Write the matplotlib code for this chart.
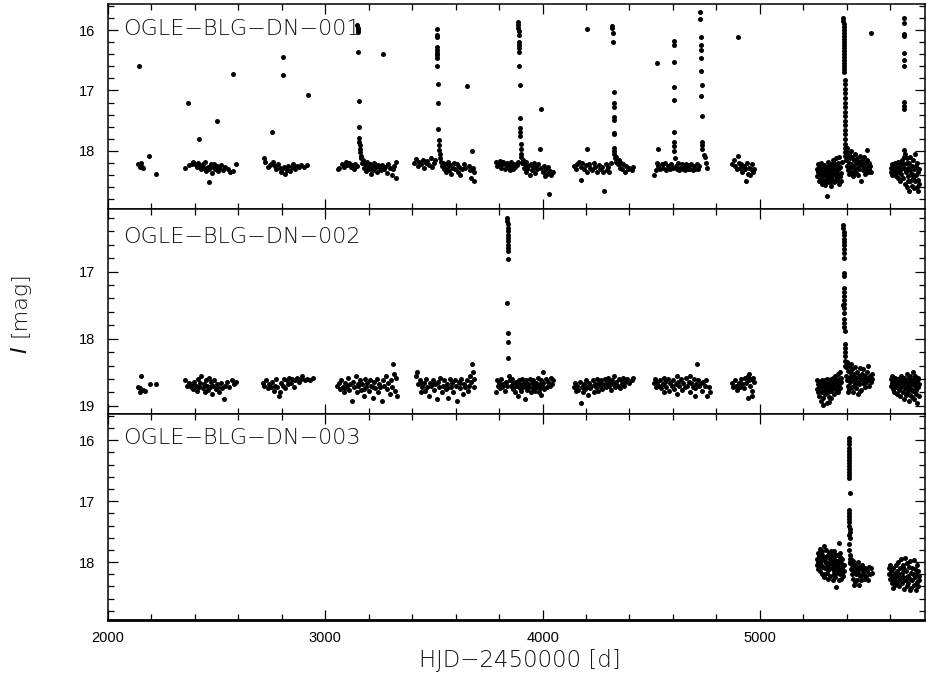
import matplotlib
matplotlib.use("Agg")
import matplotlib.pyplot as plt
import numpy as np
from matplotlib.ticker import MultipleLocator

# Light curves: flat lists of (HJD-2450000, I mag) pairs,
# grouped by observing season.
dn001 = [
    # 2100
    2142, 16.59, 2140, 18.22, 2146, 18.27, 2150, 18.20, 2156, 18.26, 2160, 18.29, 2188, 18.08, 2221, 18.38,
    # 2400
    2367, 17.20, 2421, 17.80, 2500, 17.50, 2574, 16.72,
    2356, 18.28, 2372, 18.24, 2385, 18.21, 2392, 18.18, 2400, 18.22, 2408, 18.26, 2415, 18.20, 2422, 18.25,
    2430, 18.30, 2436, 18.22, 2441, 18.28, 2447, 18.19, 2452, 18.33, 2458, 18.26, 2463, 18.30, 2467, 18.52,
    2472, 18.21, 2477, 18.36, 2482, 18.27, 2488, 18.22, 2494, 18.30, 2500, 18.25, 2506, 18.33, 2512, 18.28,
    2520, 18.24, 2530, 18.31, 2540, 18.26, 2552, 18.30, 2560, 18.35, 2575, 18.33, 2588, 18.21,
    # 2800
    2755, 17.68, 2807, 16.45, 2807, 16.75, 2920, 17.07,
    2716, 18.11, 2722, 18.18, 2735, 18.27, 2745, 18.24, 2752, 18.21, 2760, 18.19, 2768, 18.25, 2775, 18.30,
    2782, 18.22, 2790, 18.28, 2796, 18.35, 2802, 18.30, 2810, 18.26, 2815, 18.38, 2822, 18.31, 2830, 18.25,
    2838, 18.33, 2845, 18.27, 2852, 18.22, 2860, 18.30, 2868, 18.25, 2880, 18.27, 2890, 18.23, 2900, 18.26,
    2915, 18.24,
    # 3150
    3057, 18.30, 3065, 18.28, 3078, 18.22, 3088, 18.27, 3095, 18.19, 3102, 18.24, 3110, 18.20, 3118, 18.26,
    3125, 18.23, 3132, 18.30, 3138, 18.22, 3144, 18.25,
    3148, 15.92, 3149, 15.97, 3150, 16.00, 3150, 16.04, 3152, 16.36, 3155, 17.18, 3156, 17.60, 3156, 17.78,
    3157, 17.85, 3159, 17.90, 3160, 17.96, 3162, 18.02, 3164, 18.08,
    3166, 18.12, 3170, 18.20, 3174, 18.15, 3178, 18.28, 3182, 18.22, 3186, 18.33, 3190, 18.19, 3195, 18.26,
    3200, 18.30, 3205, 18.22, 3210, 18.38, 3215, 18.25, 3220, 18.31, 3226, 18.20, 3232, 18.27, 3238, 18.35,
    3244, 18.23, 3250, 18.29, 3256, 18.32, 3262, 18.24, 3264, 16.40, 3270, 18.30, 3276, 18.26, 3282, 18.36,
    3290, 18.22, 3298, 18.28, 3305, 18.40, 3312, 18.30, 3318, 18.25, 3324, 18.45, 3326, 18.18,
    # 3500
    3410, 18.20, 3418, 18.13, 3425, 18.25, 3432, 18.18, 3440, 18.22, 3448, 18.15, 3455, 18.28, 3462, 18.20,
    3470, 18.17, 3478, 18.24, 3485, 18.12, 3492, 18.26, 3500, 18.20, 3506, 18.15,
    3512, 15.98, 3513, 16.08, 3513, 16.12, 3514, 16.28, 3514, 16.33, 3515, 16.38, 3515, 16.42, 3516, 16.47,
    3516, 16.59, 3518, 16.90, 3519, 17.21, 3520, 17.64, 3522, 17.82, 3523, 17.90, 3524, 17.98, 3526, 18.05,
    3528, 18.12, 3532, 18.18, 3536, 18.25, 3540, 18.20, 3545, 18.30, 3550, 18.22, 3555, 18.35, 3560, 18.26,
    3565, 18.18, 3570, 18.32, 3575, 18.24, 3580, 18.38, 3586, 18.28, 3592, 18.20, 3598, 18.30, 3604, 18.22,
    3610, 18.34, 3616, 18.26, 3622, 18.40, 3630, 18.30, 3638, 18.22, 3645, 18.28, 3654, 16.93, 3660, 18.25,
    3666, 18.32, 3672, 18.45, 3676, 18.00, 3680, 18.28, 3684, 18.50, 3686, 18.35,
    # 3900
    3785, 18.18, 3790, 18.25, 3795, 18.20, 3800, 18.22, 3805, 18.16, 3810, 18.28, 3815, 18.21, 3820, 18.18,
    3825, 18.30, 3830, 18.24, 3835, 18.20, 3840, 18.26, 3845, 18.22, 3850, 18.32, 3855, 18.19, 3860, 18.25,
    3865, 18.30, 3870, 18.21, 3875, 18.27, 3880, 18.23, 3885, 18.18,
    3888, 15.87, 3889, 15.92, 3889, 15.97, 3890, 16.02, 3890, 16.08, 3891, 16.20, 3891, 16.25, 3892, 16.30,
    3892, 16.36, 3893, 16.60, 3894, 16.91, 3898, 17.46, 3897, 17.62, 3897, 17.68, 3897, 17.75, 3899, 17.88,
    3899, 17.97, 3900, 18.05,
    3902, 18.10, 3906, 18.20, 3910, 18.15, 3914, 18.28, 3918, 18.22, 3922, 18.35, 3926, 18.18, 3930, 18.30,
    3935, 18.25, 3940, 18.40, 3945, 18.22, 3950, 18.32, 3955, 18.27, 3960, 18.20, 3965, 18.36, 3970, 18.25,
    3975, 18.30, 3980, 18.22, 3987, 17.97, 3992, 17.31, 3995, 18.28, 4000, 18.35, 4005, 18.25, 4010, 18.42,
    4015, 18.30, 4020, 18.38, 4025, 18.27, 4030, 18.72, 4035, 18.33, 4040, 18.40, 4048, 18.35,
    # 4300
    4206, 15.98, 4206, 17.97, 4176, 18.48,
    4145, 18.25, 4152, 18.30, 4160, 18.22, 4168, 18.18, 4175, 18.27, 4182, 18.20, 4190, 18.30, 4198, 18.24,
    4205, 18.35, 4212, 18.22, 4220, 18.28, 4228, 18.32, 4235, 18.20, 4242, 18.26, 4250, 18.35, 4258, 18.23,
    4265, 18.30, 4272, 18.27, 4278, 18.35, 4283, 18.67, 4290, 18.22, 4296, 18.32, 4302, 18.26, 4308, 18.35,
    4314, 18.20,
    4320, 15.93, 4321, 15.97, 4322, 16.05, 4323, 16.20, 4328, 17.02, 4327, 17.20, 4327, 17.27, 4327, 17.44,
    4328, 17.48, 4328, 17.70, 4329, 17.72, 4327, 17.95, 4328, 18.00, 4330, 18.05,
    4332, 18.12, 4336, 18.18, 4340, 18.10, 4345, 18.22, 4350, 18.15, 4355, 18.28, 4360, 18.20, 4365, 18.30,
    4370, 18.22, 4378, 18.35, 4385, 18.25, 4392, 18.30, 4400, 18.28, 4410, 18.32, 4418, 18.26,
    # 4600
    4528, 16.54, 4532, 17.96, 4513, 18.40, 4520, 18.32,
    4525, 18.20, 4532, 18.25, 4540, 18.30, 4548, 18.22, 4555, 18.28, 4562, 18.20, 4570, 18.32, 4578, 18.25,
    4585, 18.30, 4592, 18.22, 4598, 18.28,
    4604, 16.18, 4604, 16.25, 4605, 16.53, 4605, 16.95, 4605, 17.16, 4605, 17.68, 4605, 17.85, 4606, 17.92,
    4606, 18.00,
    4610, 18.12, 4615, 18.25, 4620, 18.30, 4625, 18.20, 4630, 18.32, 4635, 18.26, 4640, 18.22, 4645, 18.30,
    4650, 18.25, 4655, 18.32, 4660, 18.22, 4665, 18.28, 4670, 18.30, 4675, 18.24, 4680, 18.30, 4685, 18.22,
    4690, 18.32, 4695, 18.25, 4700, 18.30, 4705, 18.28, 4710, 18.22, 4715, 18.30, 4720, 18.25,
    4725, 15.71, 4725, 15.82, 4727, 16.12, 4727, 16.25, 4727, 16.33, 4729, 16.46, 4731, 16.67, 4733, 16.91,
    4731, 17.09, 4733, 17.42, 4733, 17.85, 4733, 17.90, 4735, 17.97, 4742, 18.06, 4748, 18.10, 4752, 18.20,
    4755, 18.28,
    # 4900
    4872, 18.22, 4880, 18.15, 4885, 18.25, 4899, 16.12, 4895, 18.30, 4900, 18.08, 4905, 18.20, 4910, 18.28,
    4915, 18.22, 4920, 18.35, 4925, 18.25, 4930, 18.30, 4934, 18.50, 4940, 18.20, 4945, 18.38, 4950, 18.28,
    4955, 18.40, 4960, 18.30, 4965, 18.22, 4970, 18.35, 4974, 18.30,
    # 5300
    5262, 18.30, 5265, 18.42, 5268, 18.22, 5270, 18.50, 5273, 18.35, 5276, 18.28, 5278, 18.45, 5281, 18.20,
    5284, 18.55, 5286, 18.38, 5289, 18.30, 5292, 18.48, 5294, 18.24, 5297, 18.40, 5300, 18.33, 5302, 18.56,
    5305, 18.27, 5308, 18.74, 5310, 18.44, 5312, 18.18, 5315, 18.36, 5318, 18.50, 5320, 18.29, 5323, 18.42,
    5326, 18.22, 5328, 18.58, 5331, 18.34, 5334, 18.46, 5336, 18.15, 5339, 18.30, 5342, 18.52, 5344, 18.25,
    5347, 18.40, 5350, 18.12, 5352, 18.35, 5355, 18.48, 5358, 18.20, 5360, 18.30, 5363, 18.55, 5366, 18.10,
    5368, 18.42, 5371, 18.26, 5374, 18.36, 5376, 18.18, 5267, 18.35, 5279, 18.38, 5291, 18.40, 5303, 18.42,
    5316, 18.25, 5329, 18.45, 5341, 18.20, 5353, 18.45, 5365, 18.28, 5372, 18.50, 5285, 18.30, 5298, 18.50,
    5311, 18.32, 5324, 18.52, 5337, 18.38, 5349, 18.30, 5361, 18.40, 5271, 18.25, 5283, 18.45, 5296, 18.28,
    5309, 18.52, 5322, 18.35, 5334, 18.28, 5346, 18.50, 5359, 18.38, 5370, 18.42,
    5384, 15.80, 5384, 15.85, 5385, 15.90, 5385, 15.95, 5385, 16.00, 5386, 16.05, 5386, 16.10, 5386, 16.15,
    5386, 16.20, 5387, 16.25, 5387, 16.30, 5387, 16.35, 5387, 16.40, 5388, 16.45, 5388, 16.50, 5388, 16.55,
    5388, 16.60, 5389, 16.65, 5389, 16.69, 5391, 16.83, 5391, 16.90, 5391, 16.97, 5392, 17.05, 5392, 17.12,
    5392, 17.20, 5392, 17.28, 5393, 17.35, 5393, 17.42, 5393, 17.50, 5393, 17.57, 5393, 17.65, 5392, 17.72,
    5392, 17.80, 5393, 17.88, 5393, 17.95, 5394, 18.02, 5394, 18.08,
    5396, 18.00, 5398, 18.15, 5400, 17.95, 5402, 18.25, 5404, 18.10, 5406, 18.32, 5408, 18.05, 5410, 18.20,
    5412, 18.38, 5414, 18.12, 5416, 18.28, 5418, 18.00, 5420, 18.22, 5423, 18.35, 5425, 18.10, 5428, 18.25,
    5430, 18.42, 5433, 18.15, 5436, 18.30, 5438, 18.05, 5441, 18.20, 5444, 18.36, 5447, 18.12, 5450, 18.27,
    5452, 18.40, 5455, 18.18, 5458, 18.30, 5461, 18.08, 5464, 18.22, 5467, 18.50, 5470, 18.15, 5473, 18.32,
    5476, 18.25, 5479, 18.10, 5482, 18.38, 5485, 18.20, 5488, 18.30, 5491, 18.15, 5494, 18.27, 5495, 17.98,
    5498, 18.35, 5501, 18.20, 5504, 18.30, 5507, 18.25, 5510, 18.35, 5512, 16.05,
    # 5650
    5602, 18.28, 5605, 18.35, 5608, 18.22, 5610, 18.40, 5613, 18.30, 5616, 18.25, 5618, 18.38, 5621, 18.32,
    5624, 18.20, 5627, 18.42, 5630, 18.28, 5632, 18.35, 5635, 18.18, 5638, 18.45, 5640, 18.25, 5643, 18.32,
    5646, 18.50, 5648, 18.20, 5651, 18.38, 5654, 18.15, 5657, 18.28, 5660, 18.45,
    5662, 15.80, 5662, 15.89, 5662, 16.07, 5662, 16.10, 5662, 16.38, 5662, 16.50, 5662, 16.60, 5662, 17.19,
    5662, 17.25, 5662, 17.30, 5662, 17.98,
    5663, 18.10, 5665, 18.22, 5668, 18.55, 5670, 18.05, 5672, 18.35, 5675, 18.60, 5678, 18.12, 5680, 18.42,
    5683, 18.28, 5686, 18.67, 5688, 18.20, 5690, 18.50, 5693, 18.10, 5696, 18.38, 5698, 18.58, 5700, 18.25,
    5703, 18.45, 5706, 18.15, 5708, 18.62, 5711, 18.30, 5714, 18.50, 5716, 18.05, 5719, 18.40, 5722, 18.60,
    5724, 18.20, 5727, 18.48, 5729, 18.67, 5731, 18.30, 5733, 18.55, 5668, 18.30, 5676, 18.20, 5684, 18.50,
    5692, 18.32, 5701, 18.38, 5710, 18.42, 5718, 18.25, 5726, 18.35,
]

dn002 = [
    # 2150
    2152, 18.55, 2137, 18.72, 2145, 18.74, 2160, 18.77, 2148, 18.80, 2170, 18.78, 2191, 18.67, 2221, 18.68,
    # 2450
    2356, 18.62, 2365, 18.70, 2372, 18.66, 2380, 18.72, 2386, 18.68, 2392, 18.75, 2398, 18.64, 2404, 18.70,
    2410, 18.78, 2415, 18.60, 2420, 18.72, 2425, 18.66, 2430, 18.55, 2435, 18.74, 2440, 18.68, 2445, 18.80,
    2450, 18.62, 2455, 18.70, 2460, 18.76, 2465, 18.58, 2470, 18.72, 2475, 18.65, 2480, 18.82, 2485, 18.70,
    2490, 18.62, 2495, 18.75, 2500, 18.68, 2506, 18.72, 2512, 18.80, 2518, 18.66, 2525, 18.74, 2532, 18.90,
    2540, 18.70, 2548, 18.65, 2558, 18.72, 2570, 18.62, 2580, 18.68, 2590, 18.65,
    # 2830
    2712, 18.66, 2720, 18.70, 2728, 18.62, 2735, 18.74, 2742, 18.68, 2750, 18.72, 2756, 18.64, 2762, 18.78,
    2768, 18.70, 2775, 18.60, 2780, 18.72, 2786, 18.85, 2792, 18.80, 2798, 18.66, 2804, 18.70, 2810, 18.60,
    2816, 18.74, 2822, 18.62, 2828, 18.68, 2835, 18.58, 2842, 18.66, 2848, 18.60, 2855, 18.72, 2862, 18.62,
    2870, 18.58, 2878, 18.65, 2886, 18.60, 2895, 18.56, 2905, 18.62, 2915, 18.60, 2930, 18.62, 2945, 18.58,
    # 3190
    3055, 18.70, 3062, 18.66, 3068, 18.75, 3074, 18.62, 3080, 18.72, 3086, 18.80, 3092, 18.66, 3098, 18.70,
    3104, 18.58, 3110, 18.76, 3116, 18.68, 3122, 18.92, 3128, 18.64, 3134, 18.72, 3140, 18.55, 3146, 18.80,
    3152, 18.70, 3158, 18.62, 3164, 18.76, 3170, 18.68, 3176, 18.85, 3182, 18.60, 3188, 18.72, 3194, 18.66,
    3200, 18.78, 3206, 18.62, 3212, 18.70, 3218, 18.88, 3224, 18.65, 3230, 18.74, 3236, 18.60, 3242, 18.80,
    3248, 18.68, 3254, 18.72, 3260, 18.92, 3266, 18.62, 3272, 18.70, 3278, 18.56, 3284, 18.75, 3290, 18.66,
    3296, 18.82, 3302, 18.62, 3308, 18.72, 3310, 18.37, 3314, 18.52, 3320, 18.78, 3326, 18.58, 3330, 18.85,
    3090, 18.74, 3150, 18.68, 3180, 18.75, 3220, 18.72,
    # 3550
    3418, 18.55, 3422, 18.50, 3428, 18.68, 3434, 18.62, 3440, 18.80, 3446, 18.72, 3452, 18.66, 3458, 18.78,
    3464, 18.60, 3470, 18.72, 3476, 18.85, 3482, 18.66, 3488, 18.70, 3494, 18.62, 3500, 18.76, 3506, 18.68,
    3512, 18.90, 3518, 18.64, 3524, 18.72, 3530, 18.58, 3536, 18.80, 3542, 18.70, 3548, 18.62, 3554, 18.75,
    3560, 18.68, 3566, 18.88, 3572, 18.60, 3578, 18.72, 3584, 18.66, 3590, 18.80, 3596, 18.62, 3602, 18.70,
    3608, 18.92, 3614, 18.65, 3620, 18.74, 3626, 18.60, 3632, 18.82, 3638, 18.68, 3644, 18.72, 3650, 18.62,
    3656, 18.78, 3662, 18.70, 3668, 18.55, 3672, 18.65, 3676, 18.37, 3680, 18.50, 3684, 18.72, 3686, 18.60,
    3440, 18.66, 3500, 18.66, 3560, 18.74, 3620, 18.66,
    # 3900
    3785, 18.80, 3790, 18.62, 3795, 18.70, 3800, 18.66, 3805, 18.74, 3810, 18.60, 3815, 18.72, 3820, 18.68,
    3825, 18.78, 3830, 18.64, 3835, 18.70,
    3838, 16.20, 3838, 16.25, 3839, 16.30, 3839, 16.35, 3839, 16.40, 3840, 16.45, 3840, 16.50, 3840, 16.55,
    3841, 16.60, 3841, 16.65, 3842, 16.70, 3842, 16.81, 3836, 17.47, 3842, 17.92, 3843, 18.05, 3843, 18.28,
    3846, 18.55, 3850, 18.62, 3854, 18.70, 3858, 18.60, 3862, 18.75, 3866, 18.66, 3870, 18.72, 3874, 18.80,
    3878, 18.64, 3882, 18.70, 3886, 18.85, 3890, 18.62, 3894, 18.74, 3898, 18.68, 3902, 18.78, 3906, 18.60,
    3910, 18.72, 3914, 18.66, 3918, 18.90, 3922, 18.70, 3926, 18.62, 3930, 18.76, 3934, 18.68, 3938, 18.72,
    3942, 18.60, 3946, 18.80, 3950, 18.66, 3954, 18.74, 3958, 18.62, 3962, 18.70, 3966, 18.78, 3970, 18.66,
    3974, 18.72, 3978, 18.58, 3982, 18.80, 3986, 18.68, 3990, 18.74, 3994, 18.62, 3998, 18.70, 4002, 18.66,
    4008, 18.75, 4014, 18.60, 4020, 18.72, 4026, 18.64, 4032, 18.70, 4038, 18.58, 4045, 18.68, 4050, 18.62,
    4000, 18.50, 3995, 18.84,
    # 4280
    4145, 18.72, 4150, 18.66, 4155, 18.78, 4160, 18.70, 4165, 18.76, 4170, 18.64, 4176, 18.96, 4180, 18.72,
    4185, 18.80, 4190, 18.68, 4195, 18.75, 4200, 18.62, 4205, 18.72, 4210, 18.84, 4215, 18.66, 4220, 18.74,
    4225, 18.70, 4230, 18.62, 4235, 18.80, 4240, 18.68, 4245, 18.72, 4250, 18.60, 4255, 18.78, 4260, 18.66,
    4265, 18.70, 4270, 18.62, 4275, 18.75, 4280, 18.68, 4285, 18.60, 4290, 18.72, 4295, 18.66, 4300, 18.58,
    4305, 18.70, 4310, 18.64, 4315, 18.76, 4320, 18.62, 4325, 18.68, 4330, 18.56, 4335, 18.72, 4340, 18.64,
    4345, 18.70, 4350, 18.60, 4355, 18.74, 4360, 18.62, 4365, 18.68, 4370, 18.58, 4375, 18.70, 4380, 18.64,
    4390, 18.60, 4400, 18.66, 4410, 18.62, 4418, 18.58,
    # 4640
    4513, 18.66, 4518, 18.60, 4522, 18.72, 4528, 18.65, 4534, 18.70, 4540, 18.62, 4546, 18.74, 4552, 18.68,
    4558, 18.80, 4564, 18.64, 4570, 18.72, 4576, 18.60, 4582, 18.78, 4588, 18.66, 4594, 18.70, 4600, 18.62,
    4606, 18.75, 4612, 18.68, 4618, 18.82, 4624, 18.64, 4630, 18.70, 4636, 18.60, 4642, 18.76, 4648, 18.66,
    4654, 18.72, 4660, 18.58, 4666, 18.70, 4672, 18.64, 4678, 18.80, 4684, 18.66, 4690, 18.72, 4696, 18.60,
    4702, 18.74, 4708, 18.68, 4712, 18.37, 4716, 18.62, 4722, 18.70, 4728, 18.66, 4734, 18.78, 4740, 18.64,
    4746, 18.70, 4752, 18.62, 4758, 18.85, 4764, 18.72, 4770, 18.80, 4560, 18.58, 4620, 18.56, 4680, 18.55,
    4700, 18.85,
    # 4920
    4872, 18.66, 4878, 18.72, 4884, 18.62, 4890, 18.70, 4896, 18.76, 4902, 18.66, 4908, 18.72, 4914, 18.60,
    4920, 18.68, 4926, 18.74, 4932, 18.58, 4938, 18.66, 4944, 18.55, 4948, 18.62, 4952, 18.52, 4955, 18.70,
    4958, 18.60, 4962, 18.78, 4966, 18.85, 4970, 18.58, 4974, 18.65, 4945, 18.88,
    # 5350
    5262, 18.62, 5265, 18.75, 5268, 18.68, 5270, 18.85, 5273, 18.70, 5276, 18.78, 5278, 18.64, 5281, 18.92,
    5284, 18.72, 5286, 18.80, 5289, 18.66, 5292, 18.88, 5294, 18.74, 5297, 18.70, 5300, 18.82, 5302, 18.62,
    5305, 18.76, 5308, 18.96, 5310, 18.68, 5312, 18.80, 5315, 18.72, 5318, 18.66, 5320, 18.86, 5323, 18.70,
    5326, 18.60, 5328, 18.78, 5331, 18.68, 5334, 18.75, 5336, 18.58, 5339, 18.82, 5342, 18.65, 5344, 18.72,
    5347, 18.55, 5350, 18.76, 5352, 18.62, 5355, 18.70, 5358, 18.52, 5360, 18.80, 5363, 18.60, 5366, 18.68,
    5368, 18.50, 5371, 18.74, 5374, 18.58, 5267, 18.80, 5279, 18.72, 5291, 18.78, 5303, 18.70, 5316, 18.78,
    5329, 18.88, 5341, 18.74, 5353, 18.80, 5365, 18.72, 5372, 18.64, 5285, 18.62, 5298, 18.66, 5311, 18.60,
    5324, 18.74, 5337, 18.68, 5349, 18.64, 5361, 18.76, 5320, 18.94, 5290, 18.98,
    5384, 16.31, 5384, 16.36, 5385, 16.41, 5385, 16.46, 5385, 16.51, 5386, 16.56, 5386, 16.61, 5386, 16.66,
    5387, 16.72, 5387, 16.80, 5388, 17.02, 5388, 17.07, 5388, 17.24, 5389, 17.30, 5389, 17.36, 5389, 17.42,
    5388, 17.48, 5384, 17.50, 5386, 17.55, 5389, 17.62, 5387, 17.70, 5389, 17.76, 5388, 17.82, 5390, 17.88,
    5391, 18.08, 5391, 18.14, 5392, 18.20, 5392, 18.26, 5393, 18.33, 5393, 18.40,
    5395, 18.42, 5398, 18.55, 5400, 18.35, 5402, 18.62, 5404, 18.48, 5406, 18.70, 5408, 18.40, 5410, 18.58,
    5412, 18.75, 5414, 18.50, 5416, 18.65, 5418, 18.38, 5420, 18.55, 5423, 18.72, 5425, 18.45, 5428, 18.60,
    5430, 18.80, 5433, 18.52, 5436, 18.66, 5438, 18.42, 5441, 18.58, 5444, 18.74, 5447, 18.50, 5450, 18.64,
    5452, 18.82, 5455, 18.55, 5458, 18.68, 5461, 18.44, 5464, 18.60, 5467, 18.76, 5470, 18.52, 5473, 18.66,
    5476, 18.45, 5479, 18.60, 5482, 18.72, 5485, 18.55, 5488, 18.65, 5491, 18.50, 5494, 18.62, 5497, 18.40,
    5500, 18.58, 5503, 18.70, 5506, 18.55, 5510, 18.65, 5514, 18.60, 5518, 18.52, 5405, 18.80, 5432, 18.70,
    5460, 18.78,
    # 5660
    5602, 18.60, 5605, 18.70, 5608, 18.55, 5610, 18.66, 5613, 18.75, 5616, 18.62, 5618, 18.80, 5621, 18.68,
    5624, 18.58, 5627, 18.72, 5630, 18.64, 5632, 18.82, 5635, 18.70, 5638, 18.60, 5640, 18.76, 5643, 18.66,
    5646, 18.85, 5648, 18.55, 5651, 18.72, 5654, 18.62, 5657, 18.80, 5660, 18.68, 5662, 18.90, 5665, 18.58,
    5668, 18.74, 5670, 18.64, 5672, 18.84, 5675, 18.52, 5678, 18.70, 5680, 18.60, 5683, 18.78, 5686, 18.92,
    5688, 18.66, 5690, 18.55, 5693, 18.74, 5696, 18.62, 5698, 18.86, 5700, 18.68, 5703, 18.50, 5706, 18.78,
    5708, 18.60, 5711, 18.90, 5714, 18.70, 5716, 18.56, 5719, 18.82, 5722, 18.64, 5724, 18.95, 5727, 18.72,
    5729, 18.58, 5731, 18.85, 5733, 18.68, 5668, 18.62, 5676, 18.82, 5684, 18.64, 5692, 18.84, 5701, 18.76,
    5710, 18.66, 5718, 18.76, 5726, 18.60, 5612, 18.58, 5644, 18.58,
]

dn003 = [
    # 5330
    5262, 17.95, 5264, 18.05, 5266, 17.85, 5268, 18.12, 5270, 17.90, 5272, 18.00, 5275, 17.78, 5277, 18.15,
    5279, 17.92, 5282, 18.05, 5284, 17.82, 5286, 18.20, 5289, 17.95, 5291, 18.08, 5294, 17.74, 5296, 18.25,
    5298, 17.98, 5301, 18.10, 5303, 17.80, 5305, 18.02, 5308, 18.18, 5310, 17.90, 5312, 18.28, 5315, 18.05,
    5317, 17.85, 5319, 18.12, 5322, 17.95, 5324, 18.22, 5327, 18.00, 5329, 17.82, 5331, 18.10, 5334, 17.92,
    5336, 18.30, 5338, 18.05, 5341, 17.82, 5343, 18.15, 5346, 17.96, 5348, 18.25, 5351, 18.41, 5353, 18.05,
    5355, 17.88, 5358, 18.18, 5360, 17.98, 5362, 18.30, 5363, 17.69, 5365, 18.08, 5367, 17.92, 5370, 18.20,
    5372, 18.02, 5375, 18.28, 5377, 18.10, 5380, 17.95, 5382, 18.22, 5385, 18.05, 5388, 18.15, 5269, 18.00,
    5280, 17.98, 5292, 17.95, 5306, 17.92, 5320, 18.02, 5333, 18.00, 5347, 18.08, 5360, 18.12, 5373, 18.14,
    5300, 18.20, 5340, 18.20, 5274, 18.08, 5288, 17.88, 5313, 18.12, 5326, 17.88, 5356, 18.02, 5368, 17.85,
    5378, 18.20, 5344, 17.88,
    5410, 15.97, 5410, 16.02, 5410, 16.07, 5410, 16.12, 5411, 16.17, 5411, 16.22, 5411, 16.27, 5411, 16.32,
    5411, 16.37, 5412, 16.42, 5412, 16.47, 5412, 16.52, 5412, 16.57, 5412, 16.62, 5414, 16.87, 5411, 17.15,
    5411, 17.20, 5411, 17.25, 5412, 17.30, 5411, 17.35, 5412, 17.40, 5413, 17.45, 5413, 17.50, 5412, 17.55,
    5413, 17.60, 5412, 17.70, 5412, 17.80, 5413, 17.88, 5413, 17.95, 5413, 18.02,
    5416, 18.00, 5418, 18.12, 5420, 17.95, 5423, 18.20, 5425, 18.05, 5428, 18.28, 5430, 17.98, 5433, 18.15,
    5436, 18.32, 5438, 18.05, 5441, 18.20, 5444, 18.10, 5447, 18.30, 5450, 18.00, 5452, 18.18, 5455, 18.38,
    5458, 18.08, 5461, 18.22, 5464, 18.12, 5467, 18.30, 5470, 18.05, 5473, 18.20, 5476, 18.15, 5480, 18.28,
    5484, 18.10, 5488, 18.22, 5492, 18.15, 5496, 18.30, 5500, 18.08, 5505, 18.20, 5510, 18.10, 5514, 18.18,
    5432, 18.38, 5426, 18.12, 5446, 18.14,
    # 5660
    5593, 18.10, 5596, 18.20, 5598, 18.05, 5601, 18.28, 5604, 18.15, 5606, 18.35, 5609, 18.22, 5612, 18.42,
    5614, 18.10, 5617, 18.30, 5620, 18.18, 5622, 18.38, 5625, 18.05, 5628, 18.25, 5630, 18.15, 5633, 18.32,
    5636, 18.00, 5638, 18.20, 5641, 18.40, 5644, 18.10, 5646, 18.28, 5649, 17.95, 5652, 18.18, 5654, 18.35,
    5657, 18.05, 5660, 18.25, 5662, 18.44, 5665, 18.12, 5668, 17.93, 5670, 18.30, 5673, 18.15, 5676, 18.40,
    5678, 18.02, 5681, 18.22, 5684, 18.35, 5686, 18.08, 5689, 18.28, 5692, 17.98, 5694, 18.18, 5697, 18.42,
    5700, 18.10, 5702, 18.30, 5705, 18.20, 5708, 17.96, 5710, 18.38, 5713, 18.12, 5716, 18.25, 5718, 18.46,
    5721, 18.05, 5724, 18.32, 5726, 18.15, 5729, 18.40, 5731, 18.22, 5734, 18.30, 5660, 18.10, 5690, 18.45,
    5720, 18.20, 5640, 18.25, 5675, 18.25,
]

names = ["OGLE\u2212BLG\u2212DN\u2212001", "OGLE\u2212BLG\u2212DN\u2212002", "OGLE\u2212BLG\u2212DN\u2212003"]
ylims = [(18.96, 15.57), (19.12, 16.07), (18.95, 15.57)]
x_ticks = [2000, 3000, 4000, 5000]

thin = dict(family="DejaVu Sans", weight=200, color="#111111")

fig = plt.figure(figsize=(9.26, 6.81), dpi=100)
left, right = 108 / 926, 925 / 926
rows = [(4, 209), (209, 414), (414, 620)]  # pixel rows of each panel
name_offset = [25, 28, 24]

for i, (data, name, ylim) in enumerate(zip([dn001, dn002, dn003], names, ylims)):
    top, bot = rows[i]
    ax = fig.add_axes([left, 1 - bot / 681, right - left, (bot - top) / 681])
    pts = np.array(data, dtype=float).reshape(-1, 2)
    ax.plot(pts[:, 0], pts[:, 1], "o", ms=3.6, mew=0, color="black")
    ax.set_xlim(2000, 5760)
    ax.set_ylim(*ylim)
    ax.set_xticks(x_ticks)
    ax.xaxis.set_minor_locator(MultipleLocator(200))
    ax.yaxis.set_major_locator(MultipleLocator(1))
    ax.yaxis.set_minor_locator(MultipleLocator(0.2))
    ax.tick_params(which="both", direction="in", top=True, right=True, width=0.9, colors="black")
    ax.tick_params(which="major", length=7.5, pad=9, labelsize=10.5)
    ax.tick_params(which="minor", length=4)
    ax.tick_params(axis="x", labelbottom=(i == 2), pad=8)
    for lab in ax.get_xticklabels() + ax.get_yticklabels():
        lab.set_family("Liberation Sans")
    for sp in ax.spines.values():
        sp.set_linewidth(1.1)
    if i == 2:
        ax.spines["bottom"].set_linewidth(2.0)
    ax.text((123 - 108) / (925 - 108), 1 - name_offset[i] / (bot - top), name,
            transform=ax.transAxes, fontsize=16, va="center", ha="left", **thin)

fig.text(520 / 926, 1 - 660 / 681, "HJD\u22122450000 [d]", fontsize=16.5,
         ha="center", va="center", **thin)
fig.text(20 / 926, 1 - 304 / 681, "[mag]", fontsize=16, ha="center", va="center",
         rotation=90, **thin)
fig.text(20 / 926, 1 - 350 / 681, "I", fontsize=16, ha="center", va="center", rotation=90,
         family="DejaVu Sans", style="italic", color="#111111")

fig.savefig("out.png", dpi=100)
